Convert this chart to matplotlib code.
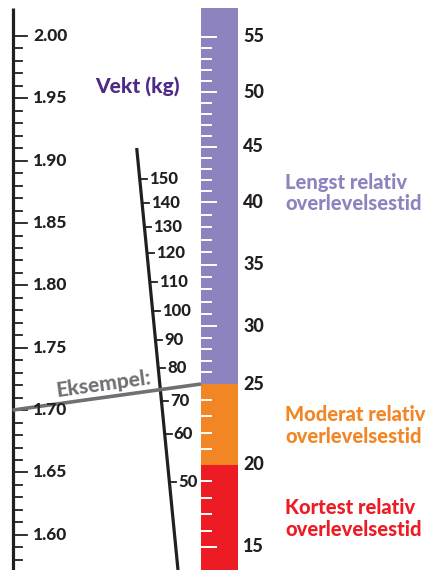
import numpy as np
import matplotlib.pyplot as plt

# --- nomogram data (positions, y in px from top) ---
height_major = [2.00, 1.95, 1.90, 1.85, 1.80, 1.75, 1.70, 1.65, 1.60]
height_top_y = 36      # y of 2.00
height_px_per_m = 1247  # linear height scale
height_minor = np.round(np.arange(1.58, 2.001, 0.01), 2)

weight_labels = [150, 140, 130, 120, 110, 100, 90, 80, 70, 60, 50]
weight_y = [179, 203, 227, 253, 282, 311, 340, 368, 401, 434, 482]
weight_line = [(136.7, 148), (178, 570)]

bmi_major = [55, 50, 45, 40, 35, 30, 25, 20, 15]
bmi_y = [37, 92, 147, 202, 265, 326, 384, 465, 547]

zones = ["Lengst relativ\noverlevelsestid",
         "Moderat relativ\noverlevelsestid",
         "Kortest relativ\noverlevelsestid"]
zone_colors = ["#8d83bf", "#f28524", "#ed1c24"]
zone_bmi = [(25, None), (20, 25), (None, 20)]
zone_label_y = [193, 425.5, 518.5]

example_height = 1.70
example_bmi = 25

INK = "#231f20"
FONT = "Lato"
W = 'black'


def h_to_y(h):
    return height_top_y + (2.00 - h) * height_px_per_m


def bmi_to_y(b):
    return np.interp(-b, [-v for v in bmi_major], bmi_y)


def weight_x(y):
    (x0, y0), (x1, y1) = weight_line
    return x0 + (x1 - x0) * (y - y0) / (y1 - y0)


fig = plt.figure(figsize=(4.32, 5.70), dpi=100)
ax = fig.add_axes([0, 0, 1, 1])
ax.set_xlim(0, 432)
ax.set_ylim(570, 0)
ax.axis('off')

# height scale
hx = 12.5
ax.plot([hx, hx], [8, 570], color=INK, lw=2.3, solid_capstyle='butt')
for h in height_minor:
    major = any(abs(h - m) < 1e-6 for m in height_major)
    ax.plot([hx, hx + (14 if major else 9)], [h_to_y(h)] * 2, color=INK, lw=1.3)
for h in height_major:
    ax.text(33, h_to_y(h), f"{h:.2f}", fontsize=12.5, fontfamily=FONT,
            fontweight=W, color=INK, va='center', ha='left')

# BMI bar
bx0, bx1 = 201, 238
for (lo, hi), c in zip(zone_bmi, zone_colors):
    ytop = 8 if hi is None else bmi_to_y(hi)
    ybot = 570 if lo is None else bmi_to_y(lo)
    ax.fill_between([bx0, bx1], ytop, ybot, color=c, lw=0)
for i in range(len(bmi_major) - 1):
    b_hi, b_lo = bmi_major[i], bmi_major[i + 1]
    for b in range(b_lo + 1, b_hi):
        ax.plot([bx0, bx0 + 10], [bmi_to_y(b)] * 2, color='white', lw=1.4)
for b in bmi_major:
    if b not in (20, 25):
        ax.plot([bx0, bx0 + 15], [bmi_to_y(b)] * 2, color='white', lw=1.4)
    ax.text(243, bmi_to_y(b), str(b), fontsize=13, fontfamily=FONT,
            fontweight=W, color=INK, va='center', ha='left')

# weight scale
(wx0, wy0), (wx1, wy1) = weight_line
ax.plot([wx0, wx1], [wy0, wy1], color=INK, lw=2.3, solid_capstyle='butt')
for w, y in zip(weight_labels, weight_y):
    x = weight_x(y)
    ax.plot([x, x + 7], [y, y], color=INK, lw=1.3)
    ax.text(x + 9, y, str(w), fontsize=12, fontfamily=FONT,
            fontweight=W, color=INK, va='center', ha='left')
ax.text(95, 86, "Vekt (kg)", fontsize=15, fontfamily=FONT, fontweight=W,
        color="#4e2a84", va='center', ha='left')

# example line
ey0, ey1 = h_to_y(example_height), bmi_to_y(example_bmi)
ax.plot([hx, bx0], [ey0, ey1], color="#6f7073", lw=2.6, solid_capstyle='butt')
ang = np.degrees(np.arctan2(ey0 - ey1, bx0 - hx))
ax.text(103, 384, "Eksempel:", fontsize=15, fontfamily=FONT, fontweight=W,
        color="#6f7073", rotation=ang, rotation_mode='anchor', va='center', ha='center')

# zone labels
for txt, c, y in zip(zones, zone_colors, zone_label_y):
    ax.text(285, y, txt, fontsize=14.5, fontfamily=FONT, fontweight=W,
            color=c, va='center', ha='left', linespacing=1.15)

fig.savefig("out.png", dpi=100)
